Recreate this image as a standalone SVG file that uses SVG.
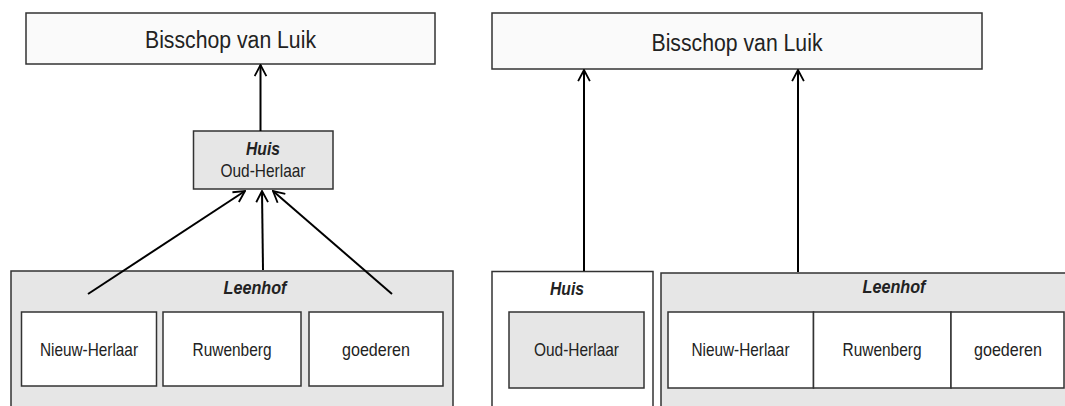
<svg xmlns="http://www.w3.org/2000/svg" width="1065" height="406" viewBox="0 0 1065 406">
<style>
.box{stroke:#333;stroke-width:1.5}
.top{fill:#fafafa}
.gray{fill:#e6e6e6}
.white{fill:#ffffff}
text{font-family:"Liberation Sans",Arial,sans-serif;fill:#222;text-anchor:middle}
.big{font-size:23.5px}
.t{font-size:18.5px}
.b{font-size:17.5px;font-weight:bold;font-style:italic}
.conn{stroke:#000;stroke-width:2;fill:none;marker-end:url(#arr)}
</style>
<defs>
<marker id="arr" viewBox="0 0 10 10" refX="9" refY="5" markerWidth="7" markerHeight="7" orient="auto" markerUnits="strokeWidth">
<path d="M1,0.8 L9,5 L1,9.2" fill="none" stroke="#000" stroke-width="1.3"/>
</marker>
</defs>
<rect width="1065" height="406" fill="#ffffff"/>

<g id="left-bisschop">
<rect class="box top" x="26" y="13" width="409" height="51"/>
<text class="big" x="230.5" y="47.5" textLength="171" lengthAdjust="spacingAndGlyphs">Bisschop van Luik</text>
</g>
<g id="left-huis">
<rect class="box gray" x="193.5" y="131" width="139.5" height="58"/>
<text class="b" x="263" y="155" textLength="34" lengthAdjust="spacingAndGlyphs">Huis</text>
<text class="t" x="263" y="177" textLength="85" lengthAdjust="spacingAndGlyphs">Oud-Herlaar</text>
</g>
<g id="left-leenhof">
<rect class="box gray" x="11" y="271" width="442" height="145"/>
<text class="b" x="255" y="294" textLength="63" lengthAdjust="spacingAndGlyphs">Leenhof</text>
</g>
<g id="left-nieuw-herlaar">
<rect class="box white" x="21.5" y="312" width="135" height="74"/>
<text class="t" x="89" y="356" textLength="98" lengthAdjust="spacingAndGlyphs">Nieuw-Herlaar</text>
</g>
<g id="left-ruwenberg">
<rect class="box white" x="163" y="312" width="138" height="74"/>
<text class="t" x="232" y="356" textLength="79" lengthAdjust="spacingAndGlyphs">Ruwenberg</text>
</g>
<g id="left-goederen">
<rect class="box white" x="309" y="312" width="134" height="74"/>
<text class="t" x="376" y="356" textLength="68" lengthAdjust="spacingAndGlyphs">goederen</text>
</g>

<g id="right-bisschop">
<rect class="box top" x="492" y="13" width="490" height="56"/>
<text class="big" x="737" y="50.5" textLength="171" lengthAdjust="spacingAndGlyphs">Bisschop van Luik</text>
</g>
<g id="right-huis">
<rect class="box white" x="492" y="271.5" width="161" height="145"/>
<text class="b" x="567" y="295" textLength="34" lengthAdjust="spacingAndGlyphs">Huis</text>
</g>
<g id="right-oud-herlaar">
<rect class="box gray" x="509" y="312" width="135" height="76"/>
<text class="t" x="576.5" y="356" textLength="85" lengthAdjust="spacingAndGlyphs">Oud-Herlaar</text>
</g>
<g id="right-leenhof">
<rect class="box gray" x="661" y="273" width="410" height="145"/>
<text class="b" x="894" y="293" textLength="63" lengthAdjust="spacingAndGlyphs">Leenhof</text>
</g>
<g id="right-nieuw-herlaar">
<rect class="box white" x="668" y="312" width="145.5" height="76"/>
<text class="t" x="740.5" y="356" textLength="98" lengthAdjust="spacingAndGlyphs">Nieuw-Herlaar</text>
</g>
<g id="right-ruwenberg">
<rect class="box white" x="813.5" y="312" width="137.5" height="76"/>
<text class="t" x="882" y="356" textLength="79" lengthAdjust="spacingAndGlyphs">Ruwenberg</text>
</g>
<g id="right-goederen">
<rect class="box white" x="951" y="312" width="113" height="76"/>
<text class="t" x="1008" y="356" textLength="68" lengthAdjust="spacingAndGlyphs">goederen</text>
</g>

<g id="connectors">
<line class="conn" x1="260.5" y1="131" x2="260.5" y2="65"/>
<line class="conn" x1="88" y1="294" x2="245" y2="191"/>
<line class="conn" x1="263" y1="270" x2="262" y2="191"/>
<line class="conn" x1="392" y1="294" x2="273" y2="191"/>
<line class="conn" x1="584" y1="271" x2="584" y2="70"/>
<line class="conn" x1="798" y1="272" x2="798" y2="70"/>
</g>
</svg>
